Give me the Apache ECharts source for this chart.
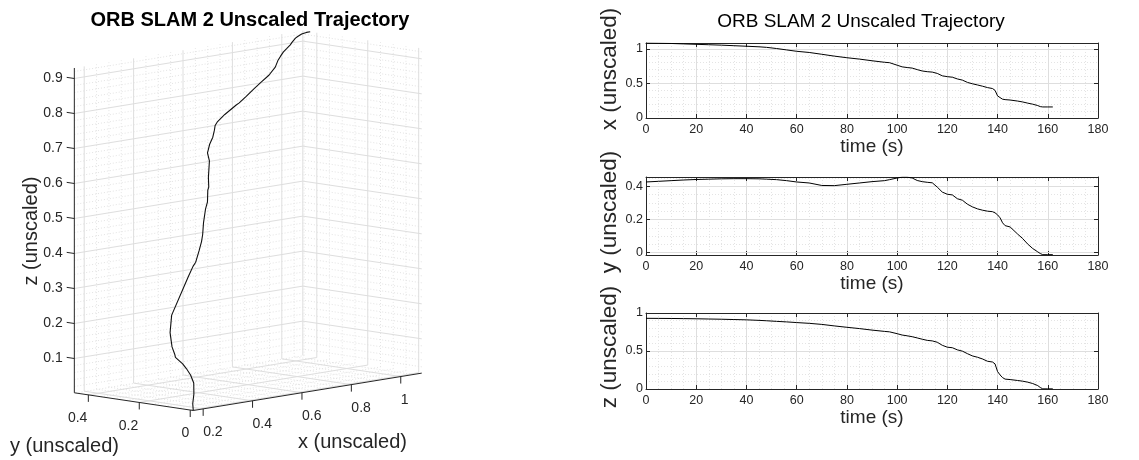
<!DOCTYPE html>
<html><head><meta charset="utf-8">
<script src="https://cdn.jsdelivr.net/npm/echarts@6/dist/echarts.min.js"></script>
<style>html,body{margin:0;padding:0;background:#fff}#c{width:1139px;height:460px}</style>
</head><body><div id="c"></div>
<script>
// ---------------- data ----------------
const TIME = [0,5,10,15,20,25,30,35,40,45,48,52,56,60,65,70,75,80,85,90,95,97,100,102,104,106,108,110,112,114,116,118,120,122,124,126,128,130,132,134,136,138,139,140,141,142,143,145,148,150,152,154,156,157,158,160,162];
const POS_X = [1.085,1.082,1.078,1.072,1.066,1.060,1.054,1.046,1.038,1.030,
  1.022,1.005,0.985,0.965,0.948,0.922,0.895,0.872,0.852,0.828,
  0.806,0.800,0.764,0.740,0.730,0.722,0.700,0.680,0.670,0.664,
  0.645,0.610,0.598,0.590,0.565,0.548,0.515,0.495,0.478,0.460,
  0.440,0.426,0.400,0.320,0.295,0.272,0.266,0.260,0.245,0.232,
  0.215,0.200,0.180,0.165,0.160,0.160,0.160];
const POS_Y = [0.426,0.430,0.434,0.438,0.441,0.443,0.445,0.446,0.446,0.445,
  0.443,0.440,0.434,0.426,0.420,0.405,0.404,0.412,0.420,0.428,
  0.434,0.440,0.450,0.455,0.455,0.450,0.435,0.428,0.424,0.421,
  0.395,0.365,0.352,0.348,0.325,0.316,0.292,0.276,0.264,0.256,
  0.250,0.247,0.240,0.228,0.210,0.180,0.163,0.155,0.112,0.085,
  0.052,0.025,0.005,-0.005,-0.012,-0.012,-0.012];
const POS_Z = [0.930,0.929,0.928,0.926,0.924,0.921,0.918,0.914,0.910,0.903,
  0.898,0.890,0.883,0.874,0.864,0.850,0.830,0.812,0.795,0.775,
  0.758,0.752,0.728,0.710,0.700,0.688,0.672,0.655,0.640,0.633,
  0.615,0.575,0.550,0.543,0.515,0.498,0.465,0.435,0.418,0.395,
  0.365,0.355,0.330,0.230,0.185,0.150,0.130,0.124,0.112,0.103,
  0.090,0.072,0.045,0.020,0.002,0.002,0.002];

const X3_TICKS = [0.2,0.4,0.6,0.8,1];
const Y3_TICKS = [0,0.2,0.4];
const Z3_TICKS = [0.1,0.2,0.3,0.4,0.5,0.6,0.7,0.8,0.9];

const TITLE = 'ORB SLAM 2 Unscaled Trajectory';
const TIME_NAME = 'time (s)';
const AXIS_NAMES = ['x (unscaled)','y (unscaled)','z (unscaled)'];

// ---------------- styling ----------------
const FONT = '"Liberation Sans", Arial, Helvetica, sans-serif';
const AX = '#262626';
const G_MAJOR = '#dedede';
const G_MINOR = '#e4e4e4';

// ---------------- 3D view (orthographic projection, MATLAB-like) ----------------
const ext = a => [Math.min(...a), Math.max(...a)];
const XR = ext(POS_X), YR = ext(POS_Y), ZR = ext(POS_Z);
const VIEW = {u0:150.7, v0:417.2, ex:[247,-40.4], ey:[-254.7,-37.9], ez:[0,-350]};
function proj(x,y,z){
  return [VIEW.u0 + VIEW.ex[0]*x + VIEW.ey[0]*y + VIEW.ez[0]*z,
          VIEW.v0 + VIEW.ex[1]*x + VIEW.ey[1]*y + VIEW.ez[1]*z];
}
function steps(lo,hi,step,exclude){
  const out=[];
  for(let k=Math.ceil(lo/step-1e-9); k*step<=hi+1e-9; k++){
    const v=+(k*step).toFixed(6);
    if(!exclude || !exclude.some(e=>Math.abs(e-v)<1e-6)) out.push(v);
  }
  return out;
}
const MINOR_X = steps(XR[0],XR[1],0.05,X3_TICKS);
const MINOR_Y = steps(YR[0],YR[1],0.05,Y3_TICKS);
const MINOR_Z = steps(ZR[0],ZR[1],0.02,Z3_TICKS);
const fmtNum = v => (+v.toFixed(4)).toString();

function renderFrame(params, api){
  const P = (x,y,z) => api.coord(proj(x,y,z));
  const kids = [];
  const seg = (a,b,style) => kids.push({type:'line', shape:{x1:a[0],y1:a[1],x2:b[0],y2:b[1]}, style});
  const txt = (x,y,s,align) => kids.push({type:'text', x, y, style:{text:s, fill:AX, fontSize:14, fontFamily:FONT, align, verticalAlign:'middle'}});
  const [x0,x1]=XR,[y0,y1]=YR,[z0,z1]=ZR;
  const minorS = {stroke:G_MINOR, lineWidth:1, lineDash:[1,2]};
  const majorS = {stroke:G_MAJOR, lineWidth:1};
  const walls = (xs,ys,zs,st) => {
    xs.forEach(x => { seg(P(x,y1,z0),P(x,y1,z1),st); seg(P(x,y0,z0),P(x,y1,z0),st); });
    ys.forEach(y => { seg(P(x1,y,z0),P(x1,y,z1),st); seg(P(x0,y,z0),P(x1,y,z0),st); });
    zs.forEach(z => { seg(P(x0,y1,z),P(x1,y1,z),st); seg(P(x1,y0,z),P(x1,y1,z),st); });
  };
  walls(MINOR_X,MINOR_Y,MINOR_Z,minorS);
  walls(X3_TICKS,Y3_TICKS,Z3_TICKS,majorS);
  seg(P(x1,y1,z0),P(x1,y1,z1),majorS);
  const axS = {stroke:AX, lineWidth:1};
  seg(P(x0,y1,z0),P(x0,y1,z1),axS);
  seg(P(x0,y0,z0),P(x0,y1,z0),axS);
  seg(P(x0,y0,z0),P(x1,y0,z0),axS);
  Z3_TICKS.forEach(z => { const a=P(x0,y1,z), b=P(x0,y1+0.03,z); seg(a,b,axS); txt(b[0]-4,a[1],fmtNum(z),'right'); });
  X3_TICKS.forEach(x => { const a=P(x,y0,z0), b=P(x,y0,z0-0.02); seg(a,b,axS); txt(a[0],a[1]+23.5,fmtNum(x),'left'); });
  Y3_TICKS.forEach(y => { const a=P(x0,y,z0), b=P(x0,y,z0-0.02); seg(a,b,axS); txt(a[0]-1,a[1]+23.5,fmtNum(y),'right'); });
  return {type:'group', children:kids};
}

// ---------------- 2D subplots ----------------
const PLOTS = [
  {vals:POS_X, top:43,  height:75, min:0,      max:1.085, major:0.5, minor:0.1,  nameY:69},
  {vals:POS_Y, top:177, height:78, min:-0.014, max:0.456, major:0.2, minor:0.05, nameY:212},
  {vals:POS_Z, top:313, height:76, min:0,      max:1,     major:0.5, minor:0.1,  nameY:347}
];
const PL_LEFT = 646, PL_W = 452;
const tickFmt = step => v => { const r=v/step; return Math.abs(r-Math.round(r))<1e-6 ? fmtNum(v) : ''; };

const grids = [{left:0, top:0, width:560, height:460, outerBoundsMode:'none'}];
const xAxes = [{gridIndex:0, type:'value', min:0, max:560, show:false}];
const yAxes = [{gridIndex:0, type:'value', min:0, max:460, inverse:true, show:false}];
const series = [
  {type:'custom', coordinateSystem:'cartesian2d', xAxisIndex:0, yAxisIndex:0, data:[[0,0]], renderItem:renderFrame, silent:true, z:1, clip:false},
  {type:'line', xAxisIndex:0, yAxisIndex:0, data:TIME.map((t,i)=>proj(POS_X[i],POS_Y[i],POS_Z[i])), showSymbol:false, symbol:'none', lineStyle:{color:'#111', width:1.1}, z:5, silent:true, clip:false}
];
const graphics = [
  {type:'text', x:31, y:231, rotation:Math.PI/2, style:{text:AXIS_NAMES[2], fill:AX, fontSize:20, fontFamily:FONT, align:'center', verticalAlign:'middle'}},
  {type:'text', x:10, y:446, style:{text:AXIS_NAMES[1], fill:AX, fontSize:20, fontFamily:FONT, align:'left', verticalAlign:'middle'}},
  {type:'text', x:298, y:442, style:{text:AXIS_NAMES[0], fill:AX, fontSize:20, fontFamily:FONT, align:'left', verticalAlign:'middle'}}
];

PLOTS.forEach((p,k) => {
  const g = k+1;
  grids.push({left:PL_LEFT, top:p.top, width:PL_W, height:p.height, outerBoundsMode:'none'});
  const tLine = {show:true, onZero:false, lineStyle:{color:AX, width:1}};
  const tick = {show:true, inside:true, length:4, lineStyle:{color:AX}};
  const majorOnly = (i,v)=>tickFmt(p.major)(+v)!=='';
  const split = c => ({show:true, showMinLine:false, showMaxLine:false, lineStyle:c});
  // minor x (time)
  xAxes.push({gridIndex:g, z:0, type:'value', min:0, max:180, interval:5, axisLine:{show:false, onZero:false}, axisTick:{show:false}, axisLabel:{show:false},
    splitLine:split({color:G_MINOR, type:[1,2]})});
  const xMajorIdx = xAxes.length;
  xAxes.push({gridIndex:g, z:1, type:'value', position:'bottom', min:0, max:180, interval:20, axisLine:tLine, axisTick:tick,
    axisLabel:{color:AX, fontSize:12.5, fontFamily:FONT, margin:5},
    splitLine:split({color:G_MAJOR}),
    name:TIME_NAME, nameLocation:'middle', nameGap:16, nameTextStyle:{color:AX, fontSize:19, fontFamily:FONT}});
  xAxes.push({gridIndex:g, z:3, type:'value', position:'top', min:0, max:180, interval:20, axisLine:tLine, axisTick:tick, axisLabel:{show:false}, splitLine:{show:false}});
  // minor y
  yAxes.push({gridIndex:g, z:0, type:'value', min:p.min, max:p.max, minInterval:p.minor, maxInterval:p.minor, axisLine:{show:false, onZero:false}, axisTick:{show:false}, axisLabel:{show:false},
    splitLine:split({color:G_MINOR, type:[1,2]})});
  const yMajorIdx = yAxes.length;
  yAxes.push({gridIndex:g, z:2, type:'value', position:'left', min:p.min, max:p.max, minInterval:p.major, maxInterval:p.major, axisLine:tLine,
    axisTick:{show:true, inside:true, length:4, lineStyle:{color:AX}, interval:majorOnly},
    axisLabel:{color:AX, fontSize:12.5, fontFamily:FONT, margin:3, formatter:tickFmt(p.major)},
    splitLine:split({color:G_MAJOR})});
  yAxes.push({gridIndex:g, z:3, type:'value', position:'right', min:p.min, max:p.max, minInterval:p.major, maxInterval:p.major, axisLine:tLine,
    axisTick:{show:true, inside:true, length:4, lineStyle:{color:AX}, interval:majorOnly}, axisLabel:{show:false}, splitLine:{show:false}});
  series.push({type:'line', xAxisIndex:xMajorIdx, yAxisIndex:yMajorIdx, data:TIME.map((t,i)=>[t,p.vals[i]]),
    showSymbol:false, symbol:'none', lineStyle:{color:'#000', width:1}, z:5, silent:true});
  graphics.push({type:'text', x:610, y:p.nameY, rotation:Math.PI/2,
    style:{text:AXIS_NAMES[k], fill:AX, fontSize:22.5, fontFamily:FONT, align:'center', verticalAlign:'middle'}});
});

const chart = echarts.init(document.getElementById('c'), null, {renderer:'canvas', width:1139, height:460});
chart.setOption({
  animation:false,
  backgroundColor:'#fff',
  textStyle:{fontFamily:FONT},
  title:[
    {text:TITLE, left:250, top:10, textAlign:'center', padding:0, textStyle:{fontWeight:'bold', fontSize:20, color:'#000', fontFamily:FONT}},
    {text:TITLE, left:861, top:12, textAlign:'center', padding:0, textStyle:{fontWeight:'normal', fontSize:19, color:'#000', fontFamily:FONT}}
  ],
  grid:grids, xAxis:xAxes, yAxis:yAxes, series,
  graphic:graphics
});
</script></body></html>
